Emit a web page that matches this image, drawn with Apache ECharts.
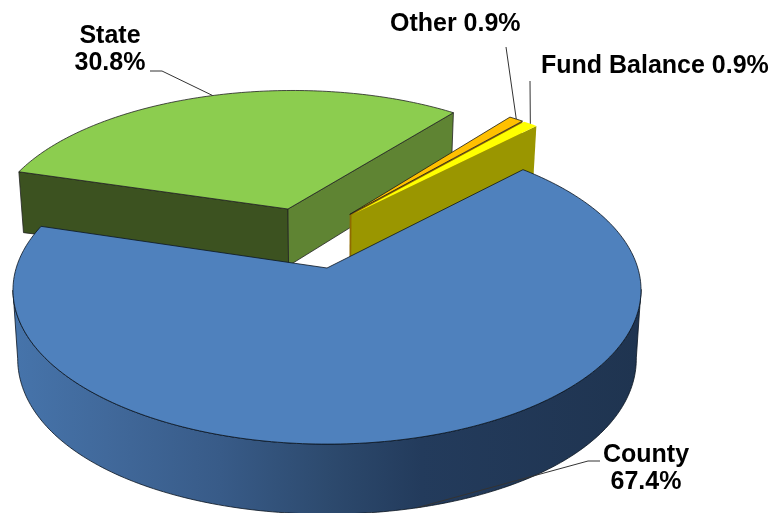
<!DOCTYPE html>
<html>
<head>
<meta charset="utf-8">
<style>html,body{margin:0;padding:0;background:#fff}#chart{width:771px;height:513px}</style>
<script src="https://cdn.jsdelivr.net/npm/echarts@6/dist/echarts.min.js"></script>
</head>
<body>
<div id="chart"></div>
<script>
// Revenue shares, clockwise from the left edge of the State wedge.
const sliceNames = ['State', 'Other', 'Fund Balance', 'County'];
const sliceValues = [30.8, 0.9, 0.9, 67.4];

// Where each wedge's tip sits on the pie plane (unit = pie radius).
const wedgeOffsets = [[-0.133, 0.414], [0.077, 0.374], [0.083, 0.369], [0, 0]];
const startAngle = 286.7;

// Perspective of the tilted pie.
const view = { cx: 327, cy: 268, scaleX: 310.8, scaleY: 112.6, tilt: 0.143, halfWidth: 314, depth: 60, spread: 0.12, shrink: 0.985 };

const sliceStyles = [
  { top: '#8ccd4f', leftWall: '#3c5220', rightWall: '#5f8433', stroke: '#222', wallStroke: '#222' },
  { top: '#ffc000', rightWall: '#8f6a00', stroke: '#1a1a1a' },
  { top: '#ffff00', rightWall: '#9a9600' },
  { top: '#4f81bd', stroke: '#0a1420' }
];
const countyWallStops = [
  [0, '#4674ab'], [0.15, '#41699b'], [0.33, '#385b88'], [0.5, '#2d4a6e'], [0.65, '#233b5c'], [1, '#1f3450']
];

const labelLayouts = [
  { x: 110, y: 50, align: 'center', path: [[150, 71], [162, 71]] },
  { x: 390, y: 24, align: 'left', path: [[506, 47]] },
  { x: 541, y: 66, align: 'left', path: [[530, 81]] },
  { x: 646, y: 469, align: 'center', path: [[600, 461], [588, 461]], onBase: true }
];

function project(u, v) {
  const w = 1 + view.tilt * v;
  return [view.cx + view.scaleX * u / w, (view.cy - view.scaleY * v) / w];
}
function dropped(u, v) {
  const p = project(u, v);
  const w = 1 + view.tilt * v;
  const t = (p[0] - view.cx) / view.halfWidth;
  return [view.cx + (p[0] - view.cx) * view.shrink, p[1] + view.depth / w * (1 + view.spread * t * t)];
}
function rim(offset, deg) {
  const a = deg * Math.PI / 180;
  return [offset[0] + Math.sin(a), offset[1] + Math.cos(a)];
}
function arcPoints(offset, from, to) {
  const pts = [];
  const steps = Math.max(2, Math.ceil(to - from));
  for (let i = 0; i <= steps; i++) pts.push(rim(offset, from + (to - from) * i / steps));
  return pts;
}
function poly(points, fill, stroke, width) {
  return {
    type: 'polygon',
    shape: { points: points },
    style: { fill: fill, stroke: stroke || 'none', lineWidth: stroke ? (width || 0.8) : 0, lineJoin: 'round' }
  };
}
function radialWall(offset, deg, fill, stroke) {
  const edge = rim(offset, deg);
  return poly([
    project(offset[0], offset[1]), project(edge[0], edge[1]),
    dropped(edge[0], edge[1]), dropped(offset[0], offset[1])
  ], fill, stroke);
}

const total = sliceValues.reduce((a, b) => a + b, 0);
const spans = [];
sliceValues.reduce((acc, val) => {
  const end = acc + val / total * 360;
  spans.push([acc, end]);
  return end;
}, startAngle);

function renderSlice(params, api) {
  const i = params.dataIndex;
  const value = api.value(0);
  const offset = wedgeOffsets[i];
  const style = sliceStyles[i];
  const span = spans[i];
  const children = [];
  const arc = arcPoints(offset, span[0], span[1]);
  const topFace = [project(offset[0], offset[1])].concat(arc.map(p => project(p[0], p[1])));

  if (sliceNames[i] === 'County') {
    // The rim wall runs between the left and right extremes of the top face.
    const sweep = arcPoints(offset, 60, span[1] > 360 ? span[1] - 360 : span[1]);
    const xs = sweep.map(p => project(p[0], p[1])[0]);
    const near = sweep.slice(xs.indexOf(Math.max(...xs)), xs.indexOf(Math.min(...xs)) + 1);
    const wall = near.map(p => project(p[0], p[1])).concat(near.slice().reverse().map(p => dropped(p[0], p[1])));
    children.push(poly(wall, new echarts.graphic.LinearGradient(0, 0, 1, 0,
      countyWallStops.map(s => ({ offset: s[0], color: s[1] }))), '#0a1420'));
  } else {
    if (style.leftWall) children.push(radialWall(offset, span[0], style.leftWall, style.wallStroke));
    children.push(radialWall(offset, span[1], style.rightWall, style.wallStroke));
  }
  children.push(poly(topFace, style.top, style.stroke));

  // Leader line runs from the label to the rim at the wedge's mid angle.
  const layout = labelLayouts[i];
  const mid = rim(offset, (span[0] + span[1]) / 2);
  const end = layout.onBase ? dropped(mid[0], mid[1]) : project(mid[0], mid[1]);
  children.push({
    type: 'polyline',
    shape: { points: layout.path.concat([end]) },
    style: { fill: 'none', stroke: '#333', lineWidth: 1 }
  });

  const pct = value.toFixed(1) + '%';
  const singleLine = layout.align === 'left';
  children.push({
    type: 'text',
    style: {
      x: layout.x,
      y: layout.y,
      text: sliceNames[i] + (singleLine ? ' ' : '\n') + pct,
      fill: '#000',
      font: 'bold 25px "Liberation Sans", Arial, sans-serif',
      lineHeight: 27,
      align: layout.align,
      verticalAlign: 'middle'
    }
  });
  return { type: 'group', children: children };
}

const chart = echarts.init(document.getElementById('chart'), null, { renderer: 'canvas' });
chart.setOption({
  animation: false,
  backgroundColor: '#fff',
  series: [{
    type: 'custom',
    coordinateSystem: 'none',
    data: sliceValues.map(v => [v]),
    renderItem: renderSlice
  }]
});
</script>
</body>
</html>
